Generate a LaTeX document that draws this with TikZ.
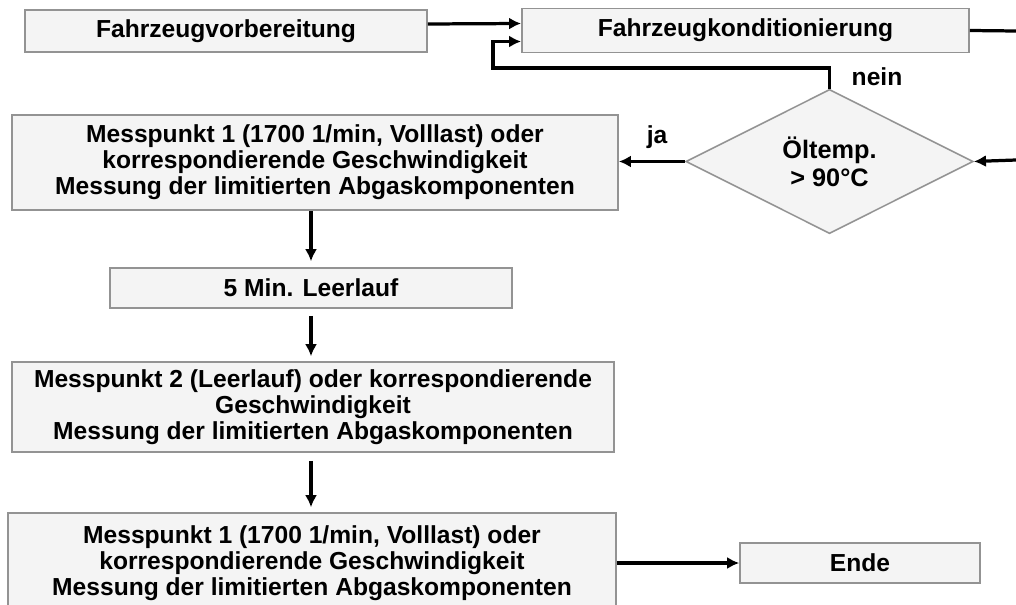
\documentclass[tikz,border=0pt]{standalone}
\usepackage{fontspec}
\setmainfont{Liberation Sans}
\usetikzlibrary{shapes.geometric,arrows.meta,calc}

\begin{document}
\begin{tikzpicture}[x=0.025cm,y=-0.025cm,
    box/.style={draw=gray!85,line width=1.1pt,fill=gray!9,inner sep=0pt,align=center,
        font=\fontsize{17.5}{18.5}\selectfont\bfseries},
    entscheidung/.style={diamond,draw=gray!85,line width=1.1pt,fill=gray!9,inner sep=0pt,
        align=center,font=\fontsize{18}{20}\selectfont\bfseries},
    marke/.style={font=\fontsize{17.5}{18}\selectfont\bfseries},
    linie/.style={line width=2.3pt},
    pfeil/.style={linie,-{Latex[length=3mm,width=3mm]}}]
    \useasboundingbox (0,0) rectangle (1016,604);
    \clip (0,0) rectangle (1016,604);

    % Boxes
    \node[box,minimum width=10.05cm,minimum height=1.05cm] (vorb) at (226,31) {Fahrzeugvorbereitung};
    \node[box,minimum width=11.18cm,minimum height=1.1cm] (kond) at (745.5,30.5) {Fahrzeugkonditionierung};
    \node[entscheidung,minimum width=7.18cm,minimum height=3.58cm] (oel) at (829.5,161.5) {Öltemp.\\> 90°C};
    \node[box,minimum width=15.15cm,minimum height=2.38cm] (mp1) at (315,162.5)
        {Messpunkt 1 (1700 1/min, Volllast) oder\\korrespondierende Geschwindigkeit\\Messung der limitierten Abgaskomponenten};
    \node[box,minimum width=10.05cm,minimum height=1cm] (leer) at (311,288) {5 Min. Leerlauf};
    \node[box,minimum width=15.05cm,minimum height=2.25cm] (mp2) at (313,407)
        {Messpunkt 2 (Leerlauf) oder korrespondierende\\Geschwindigkeit\\Messung der limitierten Abgaskomponenten};
    \node[box,minimum width=15.2cm,minimum height=2.5cm] (mp3) at (312,563)
        {Messpunkt 1 (1700 1/min, Volllast) oder\\korrespondierende Geschwindigkeit\\Messung der limitierten Abgaskomponenten};
    \node[box,minimum width=6cm,minimum height=1cm] (ende) at (860,563) {Ende};

    % Labels
    \node[marke] (nein) at (877,77) {nein};
    \node[marke] (ja) at (657,137) {ja};

    % Free ends and bends
    \coordinate (rueck) at (493,68);
    \coordinate (rausR) at (1016,31);
    \coordinate (reinR) at (1016,160);

    % Connectors
    \draw[pfeil] ($(vorb.east)+(0,-7)$) -- ($(kond.west)+(0,-7)$);
    \draw[pfeil] (oel.north) |- (rueck) |- ($(kond.west)+(0,11)$);
    \draw[linie] (kond.east) -- (rausR);
    \draw[pfeil] (reinR) -- (oel.east);
    \draw[pfeil] (oel.west) -- (mp1.east |- oel.west);
    \draw[pfeil] (mp1.south) ++(-4,0) -- ($(leer.north)+(0,-6)$);
    \draw[pfeil] ($(leer.south)+(0,7)$) -- ($(mp2.north)+(-2,-5)$);
    \draw[pfeil] ($(mp2.south)+(-2,8)$) -- ($(mp3.north)+(-1,-5)$);
    \draw[pfeil] (mp3.east |- ende.west) -- (ende.west);
\end{tikzpicture}
\end{document}
